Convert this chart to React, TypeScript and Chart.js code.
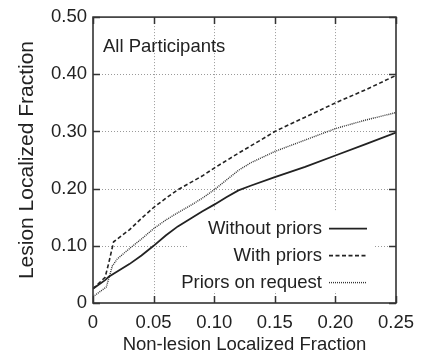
import React, { useEffect, useRef } from "react";
import { Chart, registerables } from "chart.js";

Chart.register(...registerables);

// ---- data ----
const seriesLabels = ["Without priors", "With priors", "Priors on request"];

const withoutPriorsX = [0, 0.01, 0.013, 0.02, 0.03, 0.04, 0.05, 0.06, 0.07, 0.08, 0.09, 0.1, 0.11, 0.12, 0.13, 0.15, 0.175, 0.2, 0.225, 0.25];
const withoutPriorsY = [0.025, 0.04, 0.046, 0.055, 0.068, 0.083, 0.1, 0.118, 0.134, 0.147, 0.16, 0.172, 0.185, 0.197, 0.205, 0.22, 0.238, 0.258, 0.278, 0.298];

const withPriorsX = [0, 0.01, 0.013, 0.017, 0.025, 0.03, 0.04, 0.05, 0.06, 0.07, 0.08, 0.09, 0.1, 0.12, 0.14, 0.15, 0.175, 0.2, 0.225, 0.25];
const withPriorsY = [0.025, 0.045, 0.07, 0.107, 0.12, 0.128, 0.148, 0.167, 0.183, 0.198, 0.21, 0.222, 0.236, 0.262, 0.287, 0.3, 0.325, 0.35, 0.373, 0.398];

const onRequestX = [0, 0.011, 0.016, 0.02, 0.03, 0.04, 0.05, 0.06, 0.07, 0.08, 0.09, 0.1, 0.11, 0.12, 0.13, 0.15, 0.175, 0.2, 0.225, 0.25];
const onRequestY = [0.011, 0.028, 0.065, 0.077, 0.095, 0.112, 0.13, 0.145, 0.158, 0.17, 0.183, 0.198, 0.215, 0.232, 0.245, 0.265, 0.285, 0.305, 0.32, 0.333];

const xTickValues = [0, 0.05, 0.1, 0.15, 0.2, 0.25];
const xTickLabels = ["0", "0.05", "0.10", "0.15", "0.20", "0.25"];
const yTickValues = [0, 0.1, 0.2, 0.3, 0.4, 0.5];
const yTickLabels = ["0", "0.10", "0.20", "0.30", "0.40", "0.50"];

const panelLabel = "All Participants";
const xTitle = "Non-lesion Localized Fraction";
const yTitle = "Lesion Localized Fraction";

const FONT = "'Liberation Sans', Arial, Helvetica, sans-serif";
const FS = 18.5;
const INK = "#222";

const toPoints = (xs: number[], ys: number[]) => xs.map((x, i) => ({ x, y: ys[i] }));

const framePlugin = {
  id: "frame",
  beforeDatasetsDraw(chart: any) {
    const { ctx, chartArea, scales } = chart;
    const { left, right, top, bottom } = chartArea;
    ctx.save();
    ctx.strokeStyle = "#9a9a9a";
    ctx.lineWidth = 1;
    ctx.setLineDash([1, 2]);
    xTickValues.slice(1, -1).forEach((v) => {
      const px = Math.round(scales.x.getPixelForValue(v)) + 0.5;
      ctx.beginPath();
      ctx.moveTo(px, top);
      ctx.lineTo(px, bottom);
      ctx.stroke();
    });
    yTickValues.slice(1, -1).forEach((v) => {
      const py = Math.round(scales.y.getPixelForValue(v)) + 0.5;
      ctx.beginPath();
      ctx.moveTo(left, py);
      ctx.lineTo(right, py);
      ctx.stroke();
    });
    ctx.setLineDash([]);
    // opaque key box (curves are drawn over it)
    const boxL = left + 95;
    const boxR = right - 21;
    const boxT = top + 194;
    const boxB = bottom - 12;
    ctx.fillStyle = "#fff";
    ctx.fillRect(boxL, boxT, boxR - boxL, boxB - boxT);
    ctx.restore();
  },
  afterDatasetsDraw(chart: any) {
    const { ctx, chartArea, scales } = chart;
    const { left, right, top, bottom } = chartArea;
    ctx.save();

    ctx.font = `${FS}px ${FONT}`;
    ctx.textAlign = "right";
    ctx.textBaseline = "middle";
    const textRight = right - 74;
    const sampleL = right - 67;
    const sampleR = right - 29;
    chart.data.datasets.forEach((ds: any, i: number) => {
      const cy = top + 211 + i * 27;
      ctx.fillStyle = INK;
      ctx.fillText(ds.label, textRight, cy + 1);
      ctx.strokeStyle = ds.borderColor;
      ctx.lineWidth = ds.borderWidth;
      ctx.setLineDash(ds.borderDash || []);
      ctx.beginPath();
      ctx.moveTo(sampleL, cy + 0.5);
      ctx.lineTo(sampleR, cy + 0.5);
      ctx.stroke();
    });
    ctx.setLineDash([]);

    // tick marks (inside, all four sides)
    ctx.strokeStyle = "#333";
    ctx.lineWidth = 1.5;
    const tl = 7;
    xTickValues.forEach((v) => {
      const px = Math.round(scales.x.getPixelForValue(v)) + 0.5;
      ctx.beginPath();
      ctx.moveTo(px, bottom);
      ctx.lineTo(px, bottom - tl);
      ctx.moveTo(px, top);
      ctx.lineTo(px, top + tl);
      ctx.stroke();
    });
    yTickValues.forEach((v) => {
      const py = Math.round(scales.y.getPixelForValue(v)) + 0.5;
      ctx.beginPath();
      ctx.moveTo(left, py);
      ctx.lineTo(left + tl, py);
      ctx.moveTo(right, py);
      ctx.lineTo(right - tl, py);
      ctx.stroke();
    });

    // border
    ctx.strokeStyle = "#333";
    ctx.lineWidth = 1.6;
    ctx.strokeRect(left, top, right - left, bottom - top);

    // panel label
    ctx.fillStyle = INK;
    ctx.font = `${FS}px ${FONT}`;
    ctx.textAlign = "left";
    ctx.textBaseline = "middle";
    ctx.fillText(panelLabel, left + 10, top + 30);
    ctx.restore();
  },
};

export default function App() {
  const canvasRef = useRef<HTMLCanvasElement | null>(null);

  useEffect(() => {
    const canvas = canvasRef.current;
    if (!canvas) return;
    const chart = new Chart(canvas, {
      type: "line",
      data: {
        datasets: [
          {
            label: seriesLabels[0],
            data: toPoints(withoutPriorsX, withoutPriorsY),
            borderColor: INK,
            borderWidth: 1.8,
            borderDash: [],
            pointRadius: 0,
            tension: 0,
            fill: false,
          },
          {
            label: seriesLabels[1],
            data: toPoints(withPriorsX, withPriorsY),
            borderColor: INK,
            borderWidth: 1.6,
            borderDash: [4, 2.5],
            pointRadius: 0,
            tension: 0,
            fill: false,
          },
          {
            label: seriesLabels[2],
            data: toPoints(onRequestX, onRequestY),
            borderColor: "#333",
            borderWidth: 1.4,
            borderDash: [1, 1],
            pointRadius: 0,
            tension: 0,
            fill: false,
          },
        ],
      },
      options: {
        responsive: false,
        maintainAspectRatio: false,
        animation: false,
        layout: { padding: { top: 14, right: 28, left: 0, bottom: 0 } },
        plugins: { legend: { display: false }, tooltip: { enabled: false } },
        scales: {
          x: {
            type: "linear",
            min: 0,
            max: 0.25,
            afterBuildTicks: (s: any) => {
              s.ticks = xTickValues.map((value) => ({ value }));
            },
            afterFit: (s: any) => {
              s.height = 53;
            },
            grid: { display: false, drawTicks: false },
            border: { display: false },
            ticks: {
              padding: 9,
              color: INK,
              font: { family: FONT, size: FS },
              maxRotation: 0,
              autoSkip: false,
              callback: (v: any) => {
                const i = xTickValues.findIndex((t) => Math.abs(t - Number(v)) < 1e-9);
                return i >= 0 ? xTickLabels[i] : "";
              },
            },
            title: {
              display: true,
              text: xTitle,
              color: INK,
              font: { family: FONT, size: FS },
              padding: { top: 0, bottom: 0 },
            },
          },
          y: {
            type: "linear",
            min: 0,
            max: 0.5,
            afterBuildTicks: (s: any) => {
              s.ticks = yTickValues.map((value) => ({ value }));
            },
            afterFit: (s: any) => {
              s.width = 93;
            },
            grid: { display: false, drawTicks: false },
            border: { display: false },
            ticks: {
              padding: 6,
              color: INK,
              font: { family: FONT, size: FS },
              autoSkip: false,
              callback: (v: any) => {
                const i = yTickValues.findIndex((t) => Math.abs(t - Number(v)) < 1e-9);
                return i >= 0 ? yTickLabels[i] : "";
              },
            },
            title: {
              display: true,
              text: yTitle,
              color: INK,
              font: { family: FONT, size: 21 },
              padding: { top: 15, bottom: 0 },
            },
          },
        },
      },
      plugins: [framePlugin],
    } as any);
    return () => chart.destroy();
  }, []);

  return (
    <div style={{ position: "fixed", left: 0, top: 0, width: 424, height: 356, background: "#fff" }}>
      <canvas ref={canvasRef} width={424} height={356} style={{ display: "block", width: 424, height: 356 }} />
    </div>
  );
}
